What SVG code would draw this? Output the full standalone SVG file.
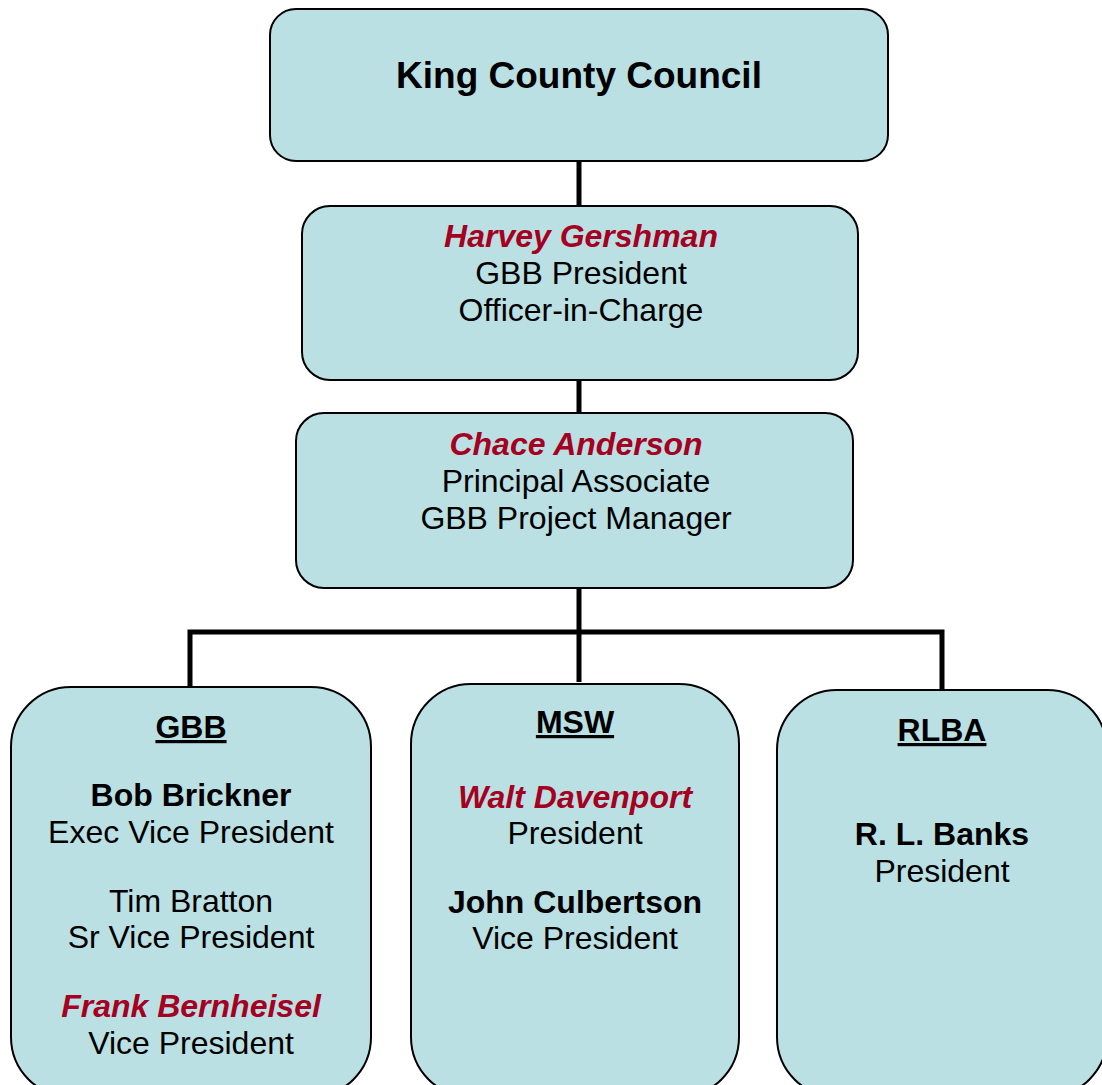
<svg xmlns="http://www.w3.org/2000/svg" width="1102" height="1085" viewBox="0 0 1102 1085">
<style>
.box{fill:#BAE0E3;stroke:#000;stroke-width:2}
.conn{stroke:#000;stroke-width:5;fill:none}
text{font-family:"Liberation Sans",Arial,sans-serif;text-anchor:middle;fill:#000;font-size:32px}
.b{font-weight:bold}
.r{font-weight:bold;font-style:italic;fill:#A50021}
.u{font-weight:bold;text-decoration:underline}
.t{font-weight:bold;font-size:37px}
</style>
<rect width="1102" height="1085" fill="#fff"/>
<g id="connectors">
<line class="conn" x1="579" y1="161" x2="579" y2="206"/>
<line class="conn" x1="579" y1="380" x2="579" y2="413"/>
<line class="conn" x1="579" y1="588" x2="579" y2="682"/>
<polyline class="conn" points="190,688 190,632 942,632 942,691"/>
</g>
<g id="king-county-council">
<rect class="box" x="270" y="9" width="618" height="152" rx="26"/>
<text class="t" x="579" y="88">King County Council</text>
</g>
<g id="harvey-gershman">
<rect class="box" x="302" y="206" width="556" height="174" rx="28"/>
<text class="r" x="581" y="247">Harvey Gershman</text>
<text x="581" y="284">GBB President</text>
<text x="581" y="321">Officer-in-Charge</text>
</g>
<g id="chace-anderson">
<rect class="box" x="296" y="413" width="557" height="175" rx="28"/>
<text class="r" x="576" y="455">Chace Anderson</text>
<text x="576" y="492">Principal Associate</text>
<text x="576" y="529">GBB Project Manager</text>
</g>
<g id="gbb">
<rect class="box" x="11" y="687" width="360" height="410" rx="60"/>
<text class="u" x="191" y="738">GBB</text>
<text class="b" x="191" y="806">Bob Brickner</text>
<text x="191" y="843">Exec Vice President</text>
<text x="191" y="912">Tim Bratton</text>
<text x="191" y="948">Sr Vice President</text>
<text class="r" x="191" y="1017">Frank Bernheisel</text>
<text x="191" y="1054">Vice President</text>
</g>
<g id="msw">
<rect class="box" x="411" y="684" width="328" height="413" rx="60"/>
<text class="u" x="575" y="733">MSW</text>
<text class="r" x="575" y="808">Walt Davenport</text>
<text x="575" y="844">President</text>
<text class="b" x="575" y="913">John Culbertson</text>
<text x="575" y="949">Vice President</text>
</g>
<g id="rlba">
<rect class="box" x="777" y="690" width="330" height="407" rx="60"/>
<text class="u" x="942" y="741">RLBA</text>
<text class="b" x="942" y="845">R. L. Banks</text>
<text x="942" y="882">President</text>
</g>
</svg>
